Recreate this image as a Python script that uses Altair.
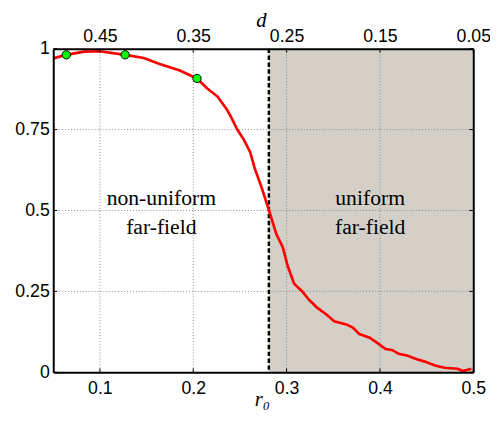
import altair as alt
import pandas as pd

# ---- data ----
r0 = [0.050, 0.064, 0.083, 0.100, 0.127, 0.147, 0.164, 0.185, 0.204, 0.215,
      0.226, 0.236, 0.241, 0.247, 0.254, 0.261, 0.266, 0.273, 0.281, 0.289,
      0.296, 0.301, 0.308, 0.317, 0.324, 0.333, 0.343, 0.351, 0.364, 0.371,
      0.378, 0.389, 0.399, 0.406, 0.413, 0.420, 0.429, 0.438, 0.448, 0.459,
      0.469, 0.483, 0.489, 0.498]
value = [0.970, 0.981, 0.991, 0.992, 0.981, 0.971, 0.953, 0.933, 0.908, 0.877,
         0.852, 0.812, 0.786, 0.751, 0.720, 0.680, 0.629, 0.573, 0.502, 0.427,
         0.386, 0.330, 0.274, 0.249, 0.224, 0.199, 0.178, 0.158, 0.148, 0.138,
         0.118, 0.107, 0.087, 0.072, 0.069, 0.057, 0.052, 0.042, 0.033, 0.021,
         0.014, 0.011, 0.004, 0.011]
pts_r0 = [0.064, 0.127, 0.204]
pts_value = [0.981, 0.981, 0.908]
threshold = [0.281]
shade_end = [0.5]
x_ticks = [0.1, 0.2, 0.3, 0.4, 0.5]
y_ticks = [0, 0.25, 0.5, 0.75, 1]
grid_x = [0.1, 0.2, 0.3, 0.4]
grid_y = [0.25, 0.5, 0.75]
label_x = [0.1658, 0.3895]
label_y = [0.517, 0.517]
label_text = [["non-uniform", "far-field"], ["uniform", "far-field"]]

W, H = 427, 329
xs = alt.Scale(domain=[0.05, 0.5], nice=False, zero=False)
ys = alt.Scale(domain=[0, 1], nice=False, zero=False)

common_axis = dict(domainColor="black", domainWidth=2, ticks=False, tickSize=0,
                   grid=False, zindex=1, labelFont="Liberation Sans",
                   labelFontSize=18, labelColor="black", labelFlush=False,
                   labelOverlap=False, labelBound=False)

bottom_axis = alt.Axis(orient="bottom", values=x_ticks,
                       labelExpr="format(datum.value, '.1f')", labelPadding=8,
                       title="r₀", titleFont="Liberation Serif", titleFontStyle="italic",
                       titleFontWeight="normal", titleFontSize=21, titleColor="black",
                       titleX=212, titleY=34, titleBaseline="alphabetic", titleAlign="center",
                       **common_axis)
top_axis = alt.Axis(orient="top", values=x_ticks,
                    labelExpr="format(0.55 - datum.value, '.2f')", labelPadding=3,
                    title="d", titleFont="Liberation Serif", titleFontStyle="italic",
                    titleFontWeight="normal", titleFontSize=21, titleColor="black",
                    titleX=211, titleY=-23, titleBaseline="alphabetic", titleAlign="center",
                    **common_axis)
left_axis = alt.Axis(orient="left", values=y_ticks, labelExpr="datum.value + ''",
                     labelPadding=4, title="", **common_axis)
right_axis = alt.Axis(orient="right", values=y_ticks, labels=False, title="",
                      **common_axis)

df_curve = pd.DataFrame({"r0": r0, "v": value})
df_pts = pd.DataFrame({"r0": pts_r0, "v": pts_value})
df_shade = pd.DataFrame({"a": threshold, "b": shade_end, "y0": [0], "y1": [1]})
df_thr = pd.DataFrame({"t": threshold})
df_gx = pd.DataFrame({"g": grid_x})
df_gy = pd.DataFrame({"g": grid_y})
df_tx = pd.DataFrame({"t": x_ticks})
df_ty = pd.DataFrame({"t": y_ticks})
df_lab = pd.DataFrame({"x": label_x, "y": label_y, "txt": label_text})

shade = alt.Chart(df_shade).mark_rect(color="#d4d0c8").encode(
    x=alt.X("a:Q", scale=xs, axis=bottom_axis),
    x2="b:Q",
    y=alt.Y("y0:Q", scale=ys, axis=left_axis),
    y2="y1:Q",
)

grid_style = dict(color="#8a8a8a", strokeWidth=1, strokeDash=[1, 2])
vgrid = alt.Chart(df_gx).mark_rule(**grid_style).encode(
    x=alt.X("g:Q", scale=xs, axis=None))
hgrid = alt.Chart(df_gy).mark_rule(**grid_style).encode(
    y=alt.Y("g:Q", scale=ys, axis=None))

thr_line = alt.Chart(df_thr).mark_rule(color="black", strokeWidth=2.5,
                                       strokeDash=[4.5, 2.5]).encode(
    x=alt.X("t:Q", scale=xs, axis=None))

curve = alt.Chart(df_curve).mark_line(color="#ff0000", strokeWidth=2.7).encode(
    x=alt.X("r0:Q", scale=xs, axis=None),
    y=alt.Y("v:Q", scale=ys, axis=None),
)

points = alt.Chart(df_pts).mark_circle(size=72, color="#00ff00", stroke="black",
                                       strokeWidth=1, opacity=1).encode(
    x=alt.X("r0:Q", scale=xs, axis=None),
    y=alt.Y("v:Q", scale=ys, axis=None),
)

labels = alt.Chart(df_lab).mark_text(font="Liberation Serif", fontSize=22,
                                     lineHeight=29, baseline="alphabetic",
                                     align="center", color="black").encode(
    x=alt.X("x:Q", scale=xs, axis=None),
    y=alt.Y("y:Q", scale=ys, axis=None),
    text="txt",
)

tick_style = dict(color="black", strokeWidth=1)
ticks_bottom = alt.Chart(df_tx).mark_rule(**tick_style).encode(
    x=alt.X("t:Q", scale=xs, axis=top_axis), y=alt.value(H), y2=alt.value(H - 4))
ticks_top = alt.Chart(df_tx).mark_rule(**tick_style).encode(
    x=alt.X("t:Q", scale=xs, axis=None), y=alt.value(0), y2=alt.value(4))
ticks_left = alt.Chart(df_ty).mark_rule(**tick_style).encode(
    y=alt.Y("t:Q", scale=ys, axis=right_axis), x=alt.value(0), x2=alt.value(4))
ticks_right = alt.Chart(df_ty).mark_rule(**tick_style).encode(
    y=alt.Y("t:Q", scale=ys, axis=None), x=alt.value(W), x2=alt.value(W - 4))

chart = alt.layer(
    shade, vgrid, hgrid, thr_line, curve, points, labels,
    ticks_bottom, ticks_top, ticks_left, ticks_right,
).properties(
    width=W, height=H,
    autosize=alt.AutoSizeParams(type="none"),
    padding={"left": 46, "top": 38, "right": 17, "bottom": 37},
    background="white",
).configure_view(stroke="transparent")

chart.save("out.html", embed_options={"renderer": "svg", "actions": False})
